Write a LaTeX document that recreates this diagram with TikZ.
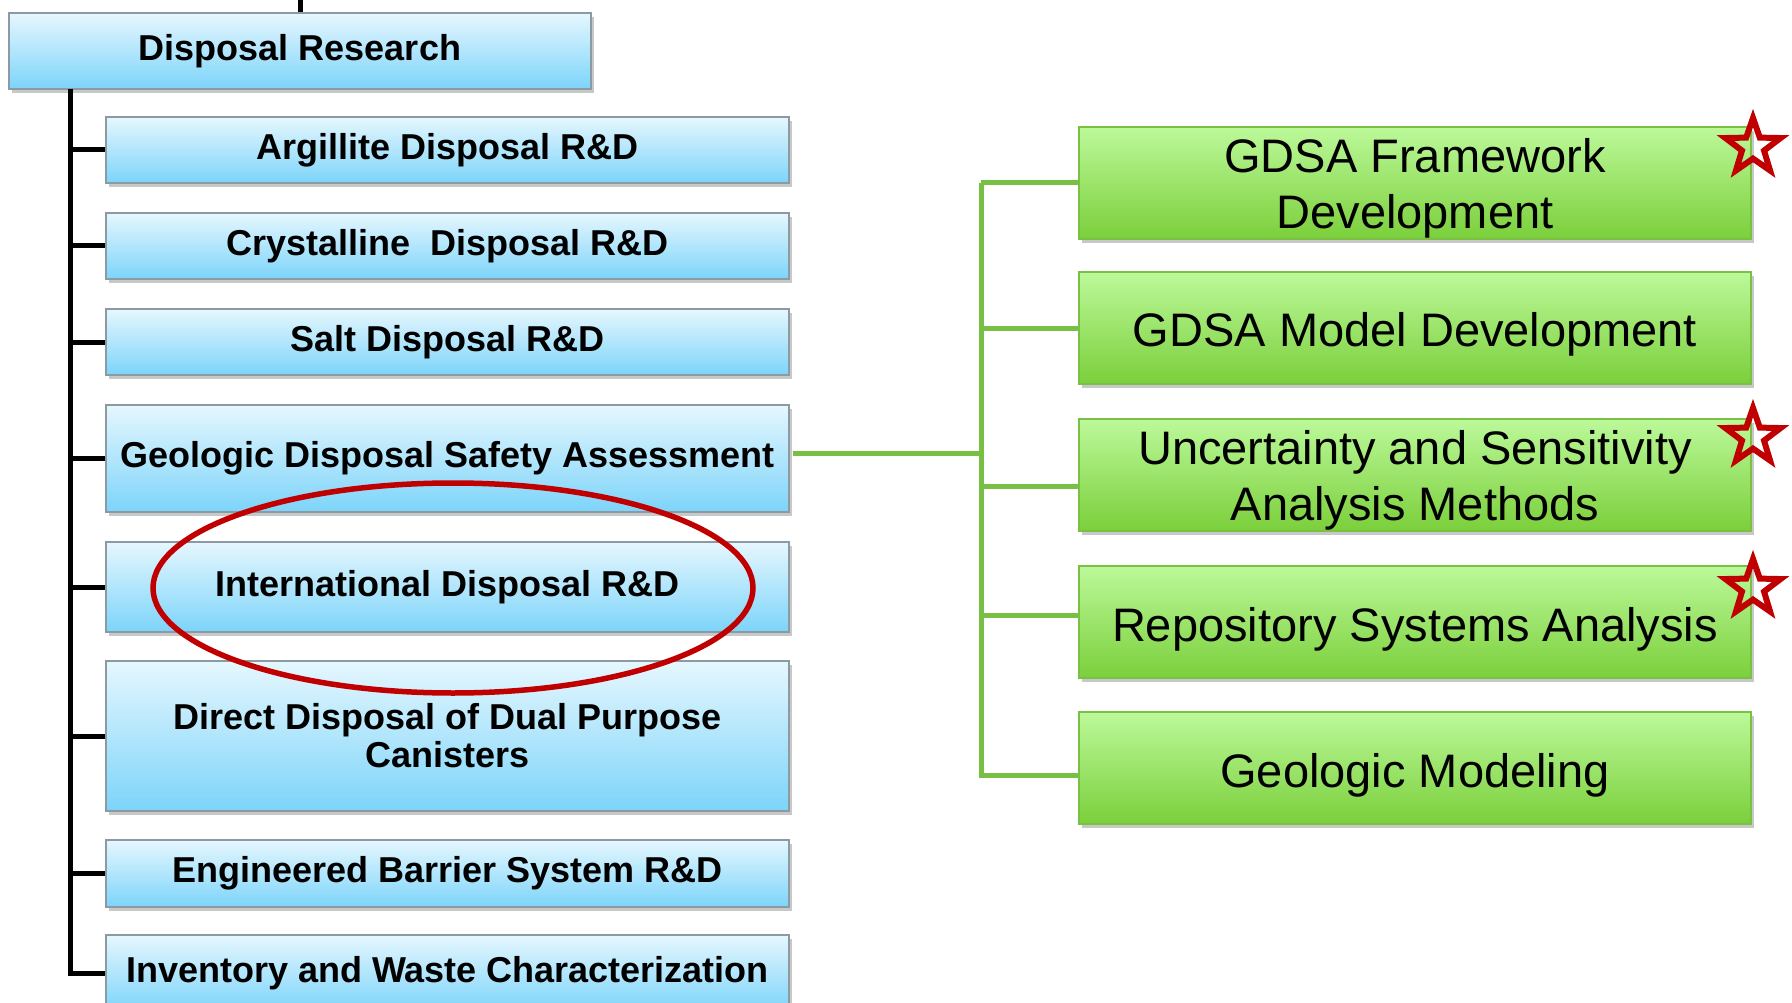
\documentclass[tikz,border=0pt]{standalone}
\usepackage{fontspec}
\setmainfont{Liberation Sans}
\usetikzlibrary{shapes.geometric,shadows}
\definecolor{bluetop}{HTML}{E6F7FE}
\definecolor{bluebot}{HTML}{7CD4FA}
\definecolor{blueedge}{HTML}{8C9AA4}
\definecolor{greentop}{HTML}{BCF99A}
\definecolor{greenbot}{HTML}{7BCF3B}
\definecolor{greenedge}{HTML}{7AC143}
\definecolor{greenline}{HTML}{77C044}
\definecolor{redmark}{HTML}{C00000}
\begin{document}
\begin{tikzpicture}[x=1pt,y=-1pt,
  boxshadow/.style={drop shadow={shadow xshift=3pt,shadow yshift=-4pt,opacity=0.3,fill=black!70}},
  bluebox/.style={draw=blueedge, line width=1.5pt, top color=bluetop, bottom color=bluebot,
    minimum width=683pt, inner sep=0pt, align=center,
    font=\fontsize{36}{38}\selectfont\bfseries, boxshadow},
  greenbox/.style={draw=greenedge, line width=1.5pt, top color=greentop, bottom color=greenbot,
    minimum width=672pt, minimum height=112pt, inner sep=0pt, boxshadow},
  greentext/.style={inner sep=0pt, align=center, font=\fontsize{47}{56}\selectfont},
  blackline/.style={draw=black, line width=5pt},
  greenconn/.style={draw=greenline, line width=5pt},
  starmark/.style={star, star points=5, star point ratio=2.5, minimum size=58pt, inner sep=0pt,
    draw=redmark, line width=6pt},
]
\useasboundingbox (0,0) rectangle (1792,1003);
\fill[white] (0,0) rectangle (1792,1003);

% top-level box
\node[bluebox, minimum width=582pt, minimum height=76pt] (dr) at (300,51) {Disposal Research};
\coordinate (topend) at (300,0);
\coordinate (trunk) at (70,89);

% child boxes
\node[bluebox, minimum height=66pt]  (arg)  at (447.5,150)   {Argillite Disposal R\&D};
\node[bluebox, minimum height=66pt]  (cry)  at (447.5,246)   {Crystalline\ \ Disposal R\&D};
\node[bluebox, minimum height=66pt]  (salt) at (447.5,342)   {Salt Disposal R\&D};
\node[bluebox, minimum height=107pt] (gdsa) at (447.5,458.5) {Geologic Disposal Safety Assessment};
\node[bluebox, minimum height=90pt]  (intl) at (447.5,587)   {International Disposal R\&D};
\node[bluebox, minimum height=150pt] (ddpc) at (447.5,736)   {Direct Disposal of Dual Purpose\\Canisters};
\node[bluebox, minimum height=67pt]  (ebs)  at (447.5,873.5) {Engineered Barrier System R\&D};
\node[bluebox, minimum height=76pt]  (inv)  at (447.5,973)   {Inventory and Waste Characterization};

% black connectors
\draw[blackline] (dr.north) -- (topend);
\draw[blackline] (trunk) |- (inv.west);
\foreach \b in {arg,cry,salt,gdsa,intl,ddpc,ebs}
  \draw[blackline] (trunk |- \b.west) -- (\b.west);

% green boxes
\node[greenbox] (gf)  at (1415,183) {};
\node[greenbox] (gm)  at (1415,328) {};
\node[greenbox] (usa) at (1415,475) {};
\node[greenbox] (rsa) at (1415,622) {};
\node[greenbox] (geo) at (1415,768) {};
\node[greentext] (gft)  at ([yshift=-5pt]gf.center)  {GDSA Framework\\Development};
\node[greentext] (gmt)  at ([yshift=-6pt]gm.center)  {GDSA Model Development};
\node[greentext] (usat) at ([yshift=-5pt]usa.center) {Uncertainty and Sensitivity\\Analysis Methods};
\node[greentext] (rsat) at ([yshift=-7pt]rsa.center) {Repository Systems Analysis};
\node[greentext] (geot) at ([yshift=-7pt]geo.center) {Geologic Modeling};

% green connector anchor points
\coordinate (gx) at (981,0);
\coordinate (gdsaout) at ([yshift=5pt,xshift=3pt]gdsa.east);
\coordinate (usain) at ([yshift=-11pt]usa.west);
\coordinate (rsain) at ([yshift=7pt]rsa.west);
\coordinate (geoin) at ([yshift=-7pt]geo.west);

\draw[greenconn] (gdsaout) -- (gx |- gdsaout);
\draw[greenconn] (gx |- gf.west) |- (geoin);
\draw[greenconn] (gx |- gf.west) -- (gf.west);
\draw[greenconn] (gx |- gm.west) -- (gm.west);
\draw[greenconn] (gx |- usain) -- (usain);
\draw[greenconn] (gx |- rsain) -- (rsain);

% stars
\node[starmark] (s1) at (1753,147) {};
\node[starmark] (s2) at (1753,437) {};
\node[starmark] (s3) at (1753,588) {};

% highlight ellipse
\draw[redmark, line width=5.5pt] (453,588) ellipse [x radius=300pt, y radius=105pt];
\end{tikzpicture}
\end{document}
